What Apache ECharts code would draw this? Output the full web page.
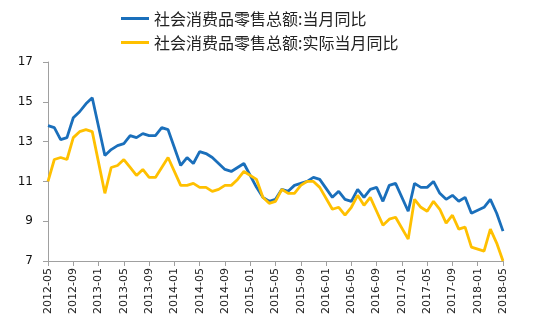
<!DOCTYPE html>
<html>
<head>
<meta charset="utf-8">
<script src="https://cdn.jsdelivr.net/npm/echarts@6/dist/echarts.min.js"></script>
<style>
html,body{margin:0;padding:0;background:#fff;}
#chart{width:537px;height:323px;}
</style>
</head>
<body>
<div id="chart"></div>
<script>
var months = [
"2012-05","2012-06","2012-07","2012-08","2012-09","2012-10","2012-11","2012-12",
"2013-01","2013-02","2013-03","2013-04","2013-05","2013-06","2013-07","2013-08","2013-09","2013-10","2013-11","2013-12",
"2014-01","2014-02","2014-03","2014-04","2014-05","2014-06","2014-07","2014-08","2014-09","2014-10","2014-11","2014-12",
"2015-01","2015-02","2015-03","2015-04","2015-05","2015-06","2015-07","2015-08","2015-09","2015-10","2015-11","2015-12",
"2016-01","2016-02","2016-03","2016-04","2016-05","2016-06","2016-07","2016-08","2016-09","2016-10","2016-11","2016-12",
"2017-01","2017-02","2017-03","2017-04","2017-05","2017-06","2017-07","2017-08","2017-09","2017-10","2017-11","2017-12",
"2018-01","2018-02","2018-03","2018-04","2018-05"
];

var nominalYoY = [
13.8,13.7,13.1,13.2,14.2,14.5,14.9,15.2,
null,12.3,12.6,12.8,12.9,13.3,13.2,13.4,13.3,13.3,13.7,13.6,
null,11.8,12.2,11.9,12.5,12.4,12.2,11.9,11.6,11.5,11.7,11.9,
null,10.7,10.2,10.0,10.1,10.6,10.5,10.8,10.9,11.0,11.2,11.1,
null,10.2,10.5,10.1,10.0,10.6,10.2,10.6,10.7,10.0,10.8,10.9,
null,9.5,10.9,10.7,10.7,11.0,10.4,10.1,10.3,10.0,10.2,9.4,
null,9.7,10.1,9.4,8.5
];

var realYoY = [
11.0,12.1,12.2,12.1,13.2,13.5,13.6,13.5,
null,10.4,11.7,11.8,12.1,11.7,11.3,11.6,11.2,11.2,11.7,12.2,
null,10.8,10.8,10.9,10.7,10.7,10.5,10.6,10.8,10.8,11.1,11.5,
null,11.1,10.2,9.9,10.0,10.6,10.4,10.4,10.8,11.0,11.0,10.7,
null,9.6,9.7,9.3,9.7,10.3,9.8,10.2,9.5,8.8,9.1,9.2,
null,8.1,10.1,9.7,9.5,10.0,9.6,8.9,9.3,8.6,8.7,7.7,
null,7.5,8.6,7.9,7.0
];

var seriesNames = ["社会消费品零售总额:当月同比", "社会消费品零售总额:实际当月同比"];
var yTicks = { min: 7, max: 17, interval: 2 };

var chart = echarts.init(document.getElementById('chart'), null, {renderer: 'canvas'});
chart.setOption({
  animation: false,
  backgroundColor: '#ffffff',
  color: ['#1a6fbb', '#ffc000'],
  legend: {
    orient: 'vertical',
    left: 116,
    top: 5,
    itemWidth: 28,
    itemHeight: 3,
    itemGap: 7,
    icon: 'rect',
    textStyle: {
      fontFamily: '"Noto Sans CJK SC", sans-serif',
      fontSize: 16,
      lineHeight: 17,
      color: '#222'
    },
    data: seriesNames
  },
  grid: {
    left: 48,
    right: 34,
    top: 62,
    bottom: 62,
    containLabel: false
  },
  xAxis: {
    type: 'category',
    data: months,
    boundaryGap: false,
    axisLine: { lineStyle: { color: '#a0a0a0', width: 1 } },
    axisTick: { show: true, interval: 3, length: 5, lineStyle: { color: '#a0a0a0' } },
    axisLabel: {
      interval: 3,
      rotate: 90,
      margin: 7,
      fontFamily: '"DejaVu Sans", sans-serif',
      fontSize: 11,
      color: '#222'
    },
    splitLine: { show: false }
  },
  yAxis: {
    type: 'value',
    min: yTicks.min,
    max: yTicks.max,
    interval: yTicks.interval,
    axisLine: { show: true, lineStyle: { color: '#a0a0a0', width: 1 } },
    axisTick: { show: true, length: 5, lineStyle: { color: '#a0a0a0' } },
    axisLabel: {
      margin: 15,
      fontFamily: '"DejaVu Sans", sans-serif',
      fontSize: 12,
      color: '#111'
    },
    splitLine: { show: false }
  },
  series: [
    {
      name: seriesNames[0],
      type: 'line',
      data: nominalYoY,
      connectNulls: true,
      showSymbol: false,
      symbol: 'none',
      lineStyle: { width: 2.8, color: '#1a6fbb' }
    },
    {
      name: seriesNames[1],
      type: 'line',
      data: realYoY,
      connectNulls: true,
      showSymbol: false,
      symbol: 'none',
      lineStyle: { width: 2.8, color: '#ffc000' }
    }
  ]
});
</script>
</body>
</html>
